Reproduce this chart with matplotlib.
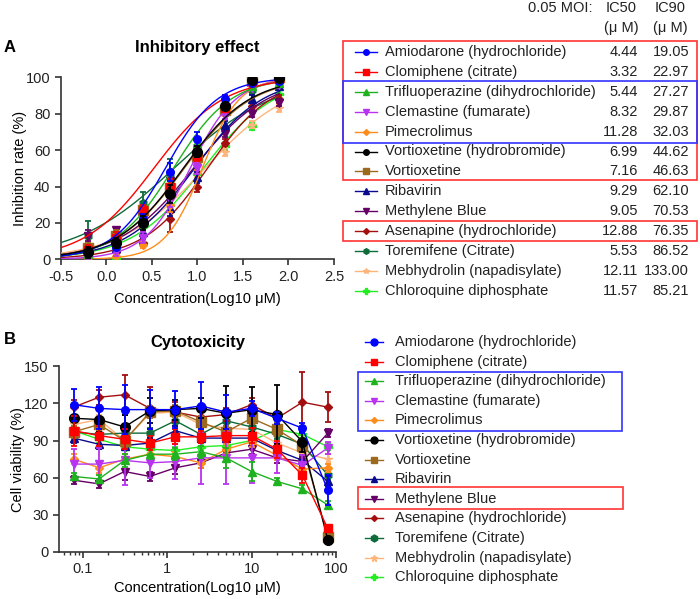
import numpy as np
import matplotlib.pyplot as plt
from matplotlib.patches import Rectangle
from matplotlib.ticker import LogLocator, NullFormatter, FixedLocator

plt.rcParams['font.family'] = ['Liberation Sans', 'DejaVu Sans']
plt.rcParams['font.size'] = 10.5

# ---- drugs ----
names = ["Amiodarone (hydrochloride)", "Clomiphene (citrate)",
         "Trifluoperazine (dihydrochloride)", "Clemastine (fumarate)",
         "Pimecrolimus", "Vortioxetine (hydrobromide)", "Vortioxetine",
         "Ribavirin", "Methylene Blue", "Asenapine (hydrochloride)",
         "Toremifene (Citrate)", "Mebhydrolin (napadisylate)",
         "Chloroquine diphosphate"]
colors = ["#0000FF", "#FF0000", "#1FB21F", "#B833F0", "#FF8C1A", "#000000",
          "#9C6A1E", "#0A0A8C", "#660066", "#A30F0F", "#0E6B3A", "#FFB47A",
          "#22EE22"]
markers = ["o", "s", "^", "v", "D", "o", "s", "^", "v", "D", "h", "*", "P"]
ic50 = [4.44, 3.32, 5.44, 8.32, 11.28, 6.99, 7.16, 9.29, 9.05, 12.88, 5.53, 12.11, 11.57]
ic90 = [19.05, 22.97, 27.27, 29.87, 32.03, 44.62, 46.63, 62.10, 70.53, 76.35, 86.52, 133.00, 85.21]

# ---- panel A: inhibition ----
log_conc = [-0.2, 0.1, 0.4, 0.7, 1.0, 1.3, 1.6, 1.9]
inhib_mean = [
    [4, 7, 22, 48, 66, 88, 97, 98],
    [5, 12, 27, 40, 57, 83, 98, 99],
    [3, 8, 20, 42, 64, 85, 95, 97],
    [2, 4, 12, 33, 50, 79, 94, 96],
    [1, 2, 8, 30, 52, 81, 95, 98],
    [4, 9, 20, 36, 59, 84, 98.5, 99.5],
    [6, 13, 27, 39, 56, 82, 98, 100],
    [3, 6, 15, 28, 45, 74, 88, 95],
    [13, 16, 22, 43, 52, 69, 80, 86],
    [1, 4, 9, 22, 40, 64, 84, 88],
    [13, 14, 31, 45, 62, 85, 93, 96],
    [5, 12, 20, 30, 48, 59, 74, 83],
    [2, 1, 9, 30, 47, 62, 73, 91],
]
inhib_sd = [
    [2, 2, 3, 5, 4, 2, 1, 1],
    [3, 3, 3, 4, 3, 2, 1, 1],
    [2, 2, 3, 4, 3, 2, 1, 1],
    [2, 2, 3, 4, 3, 2, 1, 1],
    [1, 1, 2, 4, 3, 2, 1, 1],
    [3, 3, 4, 5, 3, 2, 1, 1],
    [3, 3, 3, 4, 3, 2, 1, 1],
    [2, 2, 3, 4, 3, 2, 2, 1],
    [3, 2, 3, 4, 3, 2, 2, 2],
    [2, 2, 2, 7, 3, 2, 2, 2],
    [8, 3, 6, 10, 3, 3, 2, 2],
    [2, 2, 3, 3, 3, 2, 2, 2],
    [2, 1, 2, 3, 3, 2, 2, 2],
]

# ---- panel B: viability ----
conc_b = [0.078, 0.156, 0.3125, 0.625, 1.25, 2.5, 5, 10, 20, 40, 80]
viab_mean = [
    [119, 116, 115, 115, 115, 118, 113, 116, 108, 100, 50],
    [98, 94, 91, 88, 93, 93, 94, 94, 83, 62, 19],
    [61, 59, 74, 79, 79, 81, 76, 65, 57, 51, 38],
    [71, 71, 74, 72, 73, 76, 76, 76, 76, 70, 84],
    [75, 68, 75, 79, 77, 72, 83, 89, 78, 67, 68],
    [108, 107, 101, 114, 115, 116, 112, 115, 111, 89, 10],
    [97, 103, 90, 113, 114, 105, 97, 108, 99, 86, 12],
    [92, 87, 86, 88, 98, 92, 92, 92, 82, 74, 57],
    [58, 55, 65, 61, 68, 72, 80, 83, 76, 73, 96],
    [117, 125, 127, 116, 113, 109, 111, 119, 108, 121, 117],
    [97, 95, 96, 96, 106, 95, 106, 101, 95, 87, 62],
    [103, 107, 90, 112, 113, 103, 100, 99, 88, 80, 75],
    [98, 91, 85, 83, 82, 85, 86, 90, 99, 95, 85],
]
viab_sd = [
    [13, 17, 20, 16, 15, 19, 14, 6, 5, 4, 12],
    [12, 8, 8, 6, 6, 5, 5, 6, 7, 6, 2],
    [3, 3, 5, 4, 5, 5, 8, 8, 3, 3, 3],
    [12, 13, 20, 12, 14, 21, 21, 20, 12, 8, 5],
    [4, 4, 4, 4, 4, 4, 4, 4, 4, 4, 3],
    [10, 10, 10, 10, 8, 8, 22, 18, 24, 8, 2],
    [5, 5, 5, 5, 5, 5, 5, 5, 5, 5, 2],
    [4, 4, 4, 4, 4, 4, 4, 4, 4, 4, 4],
    [3, 3, 7, 4, 5, 4, 4, 4, 4, 4, 3],
    [6, 6, 16, 17, 8, 5, 5, 5, 5, 24, 12],
    [4, 4, 4, 4, 4, 4, 4, 4, 4, 4, 4],
    [4, 4, 4, 4, 4, 4, 4, 4, 4, 4, 4],
    [3, 3, 3, 3, 3, 3, 3, 3, 3, 3, 3],
]

fig = plt.figure(figsize=(7.0, 5.99), dpi=100)


def prism(ax):
    for s in ["top", "right"]:
        ax.spines[s].set_visible(False)
    for s in ["left", "bottom"]:
        ax.spines[s].set_linewidth(1.2)
        ax.spines[s].set_color("#333333")
    ax.tick_params(direction="out", length=4, width=1.2, color="#333333",
                   labelsize=10.5, labelcolor="#222222")


def msize(i):
    if names[i].startswith("Vortioxetine"):
        return 7
    return 4.5 if markers[i] == "D" else 5.5


def legsize(i):
    return 3 if markers[i] == "D" else 4


# panel A
axA = fig.add_axes([0.087, 0.567, 0.39, 0.304])
prism(axA)
xfit = np.linspace(-0.5, 1.9, 200)
for i in range(len(names)):
    h = np.log(9) / np.log(ic90[i] / ic50[i])
    yfit = 100 / (1 + 10 ** ((np.log10(ic50[i]) - xfit) * h))
    z = 20 - i if i != 5 else 30
    axA.plot(xfit, yfit, color=colors[i], lw=1, zorder=z)
    axA.errorbar(log_conc, inhib_mean[i], yerr=inhib_sd[i], fmt=markers[i],
                 color=colors[i], ms=msize(i), capsize=2.5, elinewidth=1.3,
                 capthick=1.3, zorder=z)
axA.set_xlim(-0.5, 2.5)
axA.set_ylim(0, 100)
axA.set_xticks([-0.5, 0.0, 0.5, 1.0, 1.5, 2.0, 2.5])
axA.set_xticklabels(["-0.5", "0.0", "0.5", "1.0", "1.5", "2.0", "2.5"])
axA.set_yticks([0, 20, 40, 60, 80, 100])
axA.set_xlabel("Concentration(Log10 \u03bcM)", fontsize=10.5, labelpad=6)
axA.set_ylabel("Inhibition rate (%)", fontsize=10.5, labelpad=-1)
axA.set_title("Inhibitory effect", fontsize=12, fontweight="bold", pad=18)

# panel B
axB = fig.add_axes([0.084, 0.0785, 0.396, 0.31])
prism(axB)
for i in range(len(names)):
    z = 20 - i
    if i == 0:
        z = 32
    if i == 5:
        z = 30
    if i == 1:
        z = 31
    axB.errorbar(conc_b, viab_mean[i], yerr=viab_sd[i], fmt="-" + markers[i],
                 color=colors[i], ms=msize(i), lw=1, capsize=2.5,
                 elinewidth=1.3, capthick=1.3, zorder=z)
axB.set_xscale("log")
axB.set_xlim(0.052, 100)
axB.set_ylim(0, 150)
axB.set_yticks([0, 30, 60, 90, 120, 150])
axB.xaxis.set_major_locator(FixedLocator([0.1, 1, 10, 100]))
axB.set_xticklabels(["0.1", "1", "10", "100"])
axB.xaxis.set_minor_locator(LogLocator(base=10, subs=np.arange(2, 10), numticks=20))
axB.xaxis.set_minor_formatter(NullFormatter())
axB.tick_params(which="minor", direction="out", length=2.5, width=1, color="#333333")
axB.set_xlabel("Concentration(Log10 \u03bcM)", fontsize=10.5, labelpad=3)
axB.set_ylabel("Cell viability (%)", fontsize=10.5, labelpad=-1)
axB.set_title("Cytotoxicity", fontsize=12, fontweight="bold", pad=14)

# overlay in pixel coordinates for labels and legends
ov = fig.add_axes([0, 0, 1, 1], zorder=-1)
ov.set_xlim(0, 700)
ov.set_ylim(599, 0)
ov.axis("off")
ov.text(4, 48, "A", fontsize=12, fontweight="bold", va="center")
ov.text(4, 339, "B", fontsize=12, fontweight="bold", va="center")

# legend A (table)
tc = "#222222"
ov.text(593, 8, "0.05 MOI:", ha="right", va="center", color=tc)
ov.text(621, 8, "IC50", ha="center", va="center", color=tc)
ov.text(621, 28, "(\u03bc M)", ha="center", va="center", color=tc)
ov.text(670, 8, "IC90", ha="center", va="center", color=tc)
ov.text(670, 28, "(\u03bc M)", ha="center", va="center", color=tc)
for i in range(len(names)):
    y = 52 + 19.9 * i
    ov.plot([355, 377], [y, y], color=colors[i], lw=1)
    ov.plot([366], [y], marker=markers[i], color=colors[i], ms=legsize(i))
    ov.text(385, y, names[i], va="center", color=tc)
    ov.text(638, y, "%.2f" % ic50[i], ha="right", va="center", color=tc)
    ov.text(689, y, "%.2f" % ic90[i], ha="right", va="center", color=tc)
ov.add_patch(Rectangle((343, 41), 354, 139, fill=False, ec="#FF3333", lw=1.2))
ov.add_patch(Rectangle((343, 81), 354, 62, fill=False, ec="#3333FF", lw=1.2))
ov.add_patch(Rectangle((343, 221), 354, 20, fill=False, ec="#FF3333", lw=1.2))

# legend B
for i in range(len(names)):
    y = 342 + 19.6 * i
    ov.plot([365, 383], [y, y], color=colors[i], lw=1)
    ov.plot([374], [y], marker=markers[i], color=colors[i],
            ms=3 if markers[i] == "D" else 5)
    ov.text(395, y, names[i], va="center", color=tc)
ov.add_patch(Rectangle((358, 372), 264, 59, fill=False, ec="#3333FF", lw=1.2))
ov.add_patch(Rectangle((358, 487), 265, 22, fill=False, ec="#FF3333", lw=1.2))

fig.savefig("out.png", dpi=100)
